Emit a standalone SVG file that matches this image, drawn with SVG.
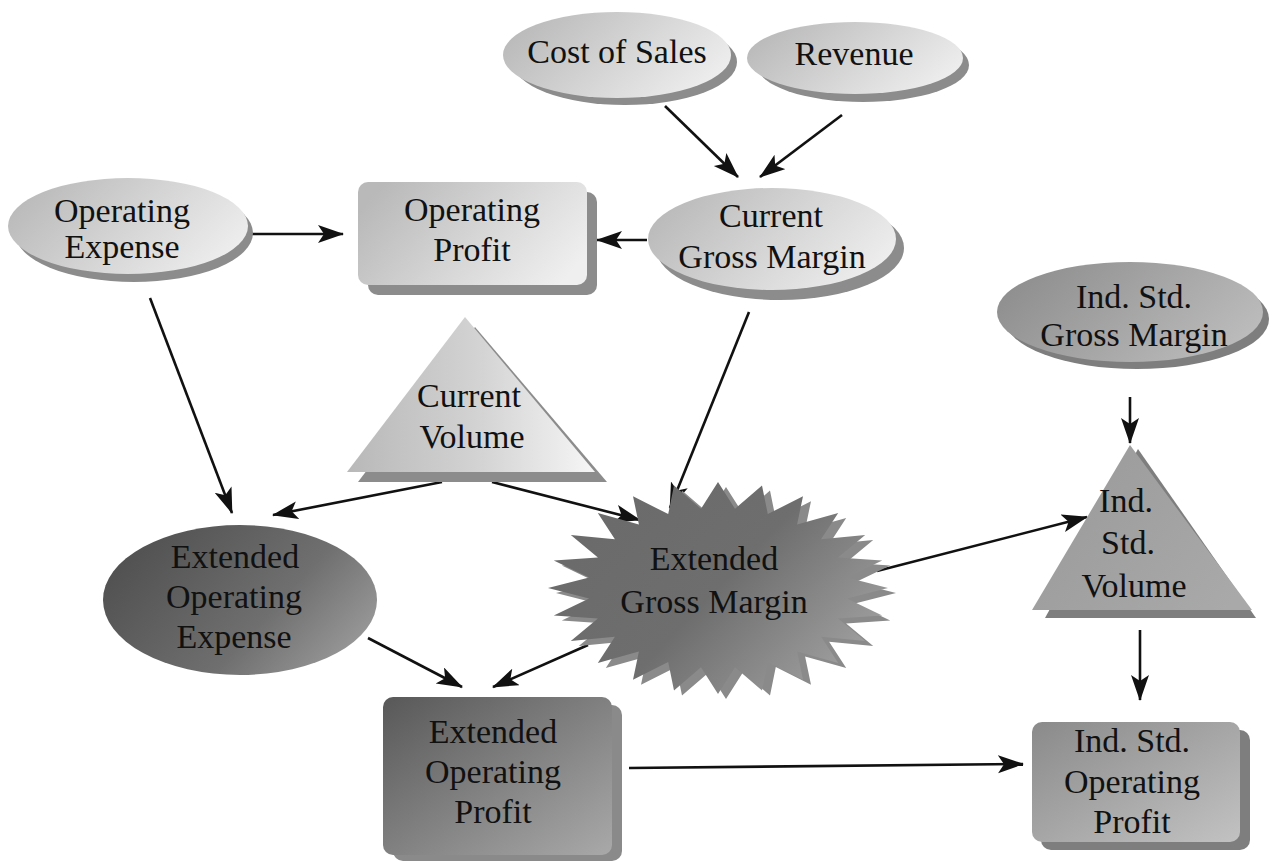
<svg xmlns="http://www.w3.org/2000/svg" width="1272" height="861" viewBox="0 0 1272 861">
  <defs>
    <style>
      .lbl { font-family: "Liberation Serif", "Times New Roman", serif; font-size: 34px; text-anchor: middle; fill: #111; }
      .edge { fill: none; stroke: #111; stroke-width: 2.6; marker-end: url(#arrow); }
      .sh-light { fill: #8c8c8c; }
      .sh-mid { fill: #7e7e7e; }
      .sh-dark { fill: #8a8a8a; }
    </style>
    <linearGradient id="gLight" x1="0" y1="0.3" x2="1" y2="0.7">
      <stop offset="0" stop-color="#b9b9b9"/>
      <stop offset="0.6" stop-color="#dadada"/>
      <stop offset="1" stop-color="#efefef"/>
    </linearGradient>
    <linearGradient id="gTri" x1="0" y1="0.5" x2="1" y2="0.5">
      <stop offset="0" stop-color="#b8b8b8"/>
      <stop offset="0.55" stop-color="#d4d4d4"/>
      <stop offset="1" stop-color="#f6f6f6"/>
    </linearGradient>
    <linearGradient id="gMid" x1="0" y1="0.3" x2="1" y2="0.7">
      <stop offset="0" stop-color="#8e8e8e"/>
      <stop offset="1" stop-color="#bdbdbd"/>
    </linearGradient>
    <linearGradient id="gIsv" x1="0" y1="0.2" x2="1" y2="0.8">
      <stop offset="0" stop-color="#9a9a9a"/>
      <stop offset="1" stop-color="#a9a9a9"/>
    </linearGradient>
    <linearGradient id="gIsop" x1="0" y1="0" x2="1" y2="1">
      <stop offset="0" stop-color="#8a8a8a"/>
      <stop offset="1" stop-color="#c2c2c2"/>
    </linearGradient>
    <linearGradient id="gStar" x1="0" y1="0.2" x2="1" y2="0.8">
      <stop offset="0" stop-color="#6a6a6a"/>
      <stop offset="0.5" stop-color="#6e6e6e"/>
      <stop offset="1" stop-color="#a4a4a4"/>
    </linearGradient>
    <linearGradient id="gDark" x1="0" y1="0.3" x2="1" y2="0.8">
      <stop offset="0" stop-color="#505050"/>
      <stop offset="0.6" stop-color="#6f6f6f"/>
      <stop offset="1" stop-color="#9e9e9e"/>
    </linearGradient>
    <linearGradient id="gEop" x1="0" y1="0" x2="1" y2="1">
      <stop offset="0" stop-color="#585858"/>
      <stop offset="1" stop-color="#a9a9a9"/>
    </linearGradient>
    <!-- barbed black arrowhead shared by all connectors -->
    <marker id="arrow" markerUnits="userSpaceOnUse" markerWidth="28" markerHeight="20" refX="25" refY="9" orient="auto">
      <path d="M0,0 L26,9 L0,18 L6,9 z" fill="#111"/>
    </marker>
  </defs>

  <rect width="1272" height="861" fill="#ffffff"/>

  <!-- connectors -->
  <g id="connectors">
    <line class="edge" x1="665" y1="106" x2="738" y2="177"/>
    <line class="edge" x1="842" y1="115" x2="760" y2="177"/>
    <line class="edge" x1="647" y1="240" x2="597" y2="240"/>
    <line class="edge" x1="250" y1="234" x2="343" y2="234"/>
    <line class="edge" x1="150" y1="298" x2="232" y2="513"/>
    <line class="edge" x1="442" y1="482" x2="273" y2="515"/>
    <line class="edge" x1="492" y1="482" x2="640" y2="520"/>
    <line class="edge" x1="749" y1="312" x2="670" y2="508"/>
    <line class="edge" x1="877" y1="571" x2="1087" y2="517"/>
    <line class="edge" x1="1130" y1="397" x2="1130" y2="443"/>
    <line class="edge" x1="1140" y1="630" x2="1140" y2="700"/>
    <line class="edge" x1="368" y1="638" x2="462" y2="687"/>
    <line class="edge" x1="588" y1="645" x2="493" y2="687"/>
    <line class="edge" x1="629" y1="768" x2="1023" y2="764"/>
  </g>

  <!-- top row -->
  <g id="node-cost-of-sales">
    <ellipse class="sh-light" cx="625" cy="62" rx="112" ry="43"/>
    <ellipse cx="617" cy="55" rx="114" ry="43" fill="url(#gLight)"/>
    <text class="lbl" x="617" y="63">Cost of Sales</text>
  </g>
  <g id="node-revenue">
    <ellipse class="sh-light" cx="863" cy="65" rx="106" ry="37"/>
    <ellipse cx="855" cy="58" rx="108" ry="36" fill="url(#gLight)"/>
    <text class="lbl" x="854" y="65">Revenue</text>
  </g>

  <g id="node-operating-expense">
    <ellipse class="sh-light" cx="134" cy="233" rx="119" ry="49"/>
    <ellipse cx="128" cy="226" rx="120" ry="48" fill="url(#gLight)"/>
    <text class="lbl" x="122" y="222">Operating</text>
    <text class="lbl" x="122" y="258">Expense</text>
  </g>
  <g id="node-operating-profit">
    <rect class="sh-light" x="368" y="192" width="229" height="103" rx="10"/>
    <rect x="358" y="182" width="229" height="103" rx="10" fill="url(#gLight)"/>
    <text class="lbl" x="472" y="221">Operating</text>
    <text class="lbl" x="472" y="261">Profit</text>
  </g>
  <g id="node-current-gross-margin">
    <ellipse class="sh-light" cx="780" cy="248" rx="124" ry="52"/>
    <ellipse cx="772" cy="239" rx="124" ry="51" fill="url(#gLight)"/>
    <text class="lbl" x="771" y="227">Current</text>
    <text class="lbl" x="772" y="268">Gross Margin</text>
  </g>

  <g id="node-ind-std-gross-margin">
    <ellipse class="sh-mid" cx="1137" cy="319" rx="132" ry="50"/>
    <ellipse cx="1130" cy="312" rx="133" ry="50" fill="url(#gMid)"/>
    <text class="lbl" x="1134" y="308">Ind. Std.</text>
    <text class="lbl" x="1134" y="346">Gross Margin</text>
  </g>

  <g id="node-current-volume">
    <polygon class="sh-light" points="475,327 358,482 607,482"/>
    <polygon points="465,317 347,472 595,472" fill="url(#gTri)"/>
    <text class="lbl" x="469" y="407">Current</text>
    <text class="lbl" x="472" y="448">Volume</text>
  </g>

  <g id="node-ind-std-volume">
    <polygon class="sh-mid" points="1138,449 1045,618 1256,618"/>
    <polygon points="1130,445 1032,610 1252,610" fill="url(#gIsv)"/>
    <text class="lbl" x="1126" y="512">Ind.</text>
    <text class="lbl" x="1128" y="554">Std.</text>
    <text class="lbl" x="1134" y="597">Volume</text>
  </g>

  <g id="node-extended-operating-expense">
    <ellipse cx="240" cy="600" rx="137" ry="75" fill="url(#gDark)"/>
    <text class="lbl" x="235" y="568">Extended</text>
    <text class="lbl" x="234" y="608">Operating</text>
    <text class="lbl" x="234" y="648">Expense</text>
  </g>

  <g id="node-extended-gross-margin">
    <polygon class="sh-dark" transform="translate(8,5)" points="888,588 846.9,598.4 882.2,615.4 838.1,618.6 865.2,641 821.1,636.7 838.2,663 797.1,651.5 803,679.8 767.8,661.9 762,690.4 735,667.3 718,694 701,667.3 674,690.4 668.2,661.9 633,679.8 638.9,651.5 597.8,663 614.9,636.7 570.8,641 597.9,618.6 553.8,615.4 589.1,598.4 548,588 589.1,577.6 553.8,560.6 597.9,557.4 570.8,535 614.9,539.3 597.8,513 638.9,524.5 633,496.2 668.2,514.1 674,485.6 701,508.7 718,482 735,508.7 762,485.6 767.8,514.1 803,496.2 797.1,524.5 838.2,513 821.1,539.3 865.2,535 838.1,557.4 882.2,560.6 846.9,577.6"/>
    <polygon fill="url(#gStar)" points="888,588 846.9,598.4 882.2,615.4 838.1,618.6 865.2,641 821.1,636.7 838.2,663 797.1,651.5 803,679.8 767.8,661.9 762,690.4 735,667.3 718,694 701,667.3 674,690.4 668.2,661.9 633,679.8 638.9,651.5 597.8,663 614.9,636.7 570.8,641 597.9,618.6 553.8,615.4 589.1,598.4 548,588 589.1,577.6 553.8,560.6 597.9,557.4 570.8,535 614.9,539.3 597.8,513 638.9,524.5 633,496.2 668.2,514.1 674,485.6 701,508.7 718,482 735,508.7 762,485.6 767.8,514.1 803,496.2 797.1,524.5 838.2,513 821.1,539.3 865.2,535 838.1,557.4 882.2,560.6 846.9,577.6"/>
    <text class="lbl" x="714" y="570">Extended</text>
    <text class="lbl" x="714" y="613">Gross Margin</text>
  </g>

  <g id="node-extended-operating-profit">
    <rect class="sh-dark" x="393" y="705" width="229" height="156" rx="10"/>
    <rect x="383" y="697" width="229" height="158" rx="10" fill="url(#gEop)"/>
    <text class="lbl" x="493" y="743">Extended</text>
    <text class="lbl" x="493" y="783">Operating</text>
    <text class="lbl" x="493" y="823">Profit</text>
  </g>

  <g id="node-ind-std-operating-profit">
    <rect class="sh-mid" x="1041" y="730" width="209" height="120" rx="10"/>
    <rect x="1032" y="722" width="208" height="120" rx="10" fill="url(#gIsop)"/>
    <text class="lbl" x="1132" y="752">Ind. Std.</text>
    <text class="lbl" x="1132" y="793">Operating</text>
    <text class="lbl" x="1132" y="833">Profit</text>
  </g>
</svg>
